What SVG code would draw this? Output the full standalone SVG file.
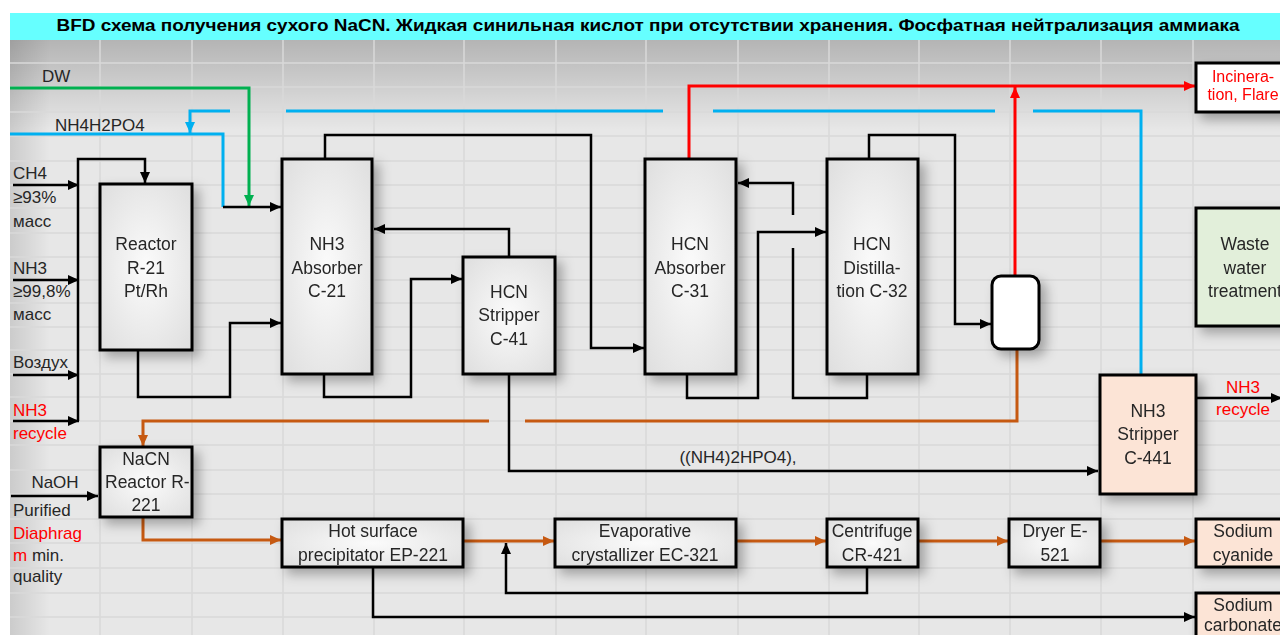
<svg xmlns="http://www.w3.org/2000/svg" width="1280" height="635" viewBox="0 0 1280 635">
<defs>
<style>
.grid{stroke:#d9d9d9;stroke-width:1.5}
.box{stroke:#000;stroke-width:3}
.gray{fill:url(#boxg)}
.peach{fill:#fce4d6}
.ln{fill:none;stroke:#000;stroke-width:2.5}
.blk{fill:none;stroke:#000;stroke-width:2.5;marker-end:url(#ak)}
.org{fill:none;stroke:#c65911;stroke-width:3}
.orga{fill:none;stroke:#c65911;stroke-width:3;marker-end:url(#ao)}
.red{fill:none;stroke:#ff0000;stroke-width:3}
.reda{fill:none;stroke:#ff0000;stroke-width:3;marker-end:url(#ar)}
.blu{fill:none;stroke:#00b0f0;stroke-width:3}
.blua{fill:none;stroke:#00b0f0;stroke-width:3;marker-end:url(#ab)}
.grna{fill:none;stroke:#00b050;stroke-width:3;marker-end:url(#ag)}
text{font-family:"Liberation Sans",Arial,sans-serif}
.t{font-size:17.5px;fill:#262626;text-anchor:middle}
.l{font-size:17px;fill:#262626}
.rt{fill:#ff0000}
.c{text-anchor:middle}
</style>
<marker id="ak" markerUnits="userSpaceOnUse" markerWidth="12" markerHeight="10" refX="11" refY="5" orient="auto"><path d="M0,0 L11,5 L0,10 z" fill="#000"/></marker>
<marker id="ao" markerUnits="userSpaceOnUse" markerWidth="12" markerHeight="10" refX="11" refY="5" orient="auto"><path d="M0,0 L11,5 L0,10 z" fill="#c65911"/></marker>
<marker id="ar" markerUnits="userSpaceOnUse" markerWidth="12" markerHeight="10" refX="11" refY="5" orient="auto"><path d="M0,0 L11,5 L0,10 z" fill="#ff0000"/></marker>
<marker id="ab" markerUnits="userSpaceOnUse" markerWidth="12" markerHeight="10" refX="11" refY="5" orient="auto"><path d="M0,0 L11,5 L0,10 z" fill="#00b0f0"/></marker>
<marker id="ag" markerUnits="userSpaceOnUse" markerWidth="12" markerHeight="10" refX="11" refY="5" orient="auto"><path d="M0,0 L11,5 L0,10 z" fill="#00b050"/></marker>
<radialGradient id="boxg" cx="50%" cy="50%" r="75%">
<stop offset="0" stop-color="#fbfbfb"/>
<stop offset="1" stop-color="#dcdcdc"/>
</radialGradient>
<linearGradient id="topShade" x1="0" y1="0" x2="0" y2="1">
<stop offset="0" stop-color="#000" stop-opacity="0.22"/>
<stop offset="1" stop-color="#000" stop-opacity="0"/>
</linearGradient>
<linearGradient id="leftShade" x1="0" y1="0" x2="1" y2="0">
<stop offset="0" stop-color="#000" stop-opacity="0.12"/>
<stop offset="1" stop-color="#000" stop-opacity="0"/>
</linearGradient>
<filter id="sh" x="-30%" y="-30%" width="170%" height="170%">
<feGaussianBlur in="SourceAlpha" stdDeviation="6"/>
<feOffset dx="6" dy="6" result="b"/>
<feFlood flood-color="#000" flood-opacity="0.3"/>
<feComposite in2="b" operator="in"/>
<feMerge><feMergeNode/><feMergeNode in="SourceGraphic"/></feMerge>
</filter>
</defs>

<rect x="0" y="0" width="1280" height="635" fill="#ffffff"/>
<rect x="10" y="40" width="1270" height="595" fill="#e7e7e7"/>
<rect x="10" y="40" width="1270" height="90" fill="url(#topShade)"/>
<rect x="10" y="40" width="40" height="595" fill="url(#leftShade)"/>

<g id="grid" class="grid">
<path d="M100,40V635M192,40V635M283,40V635M374,40V635M464,40V635M556,40V635M646,40V635M738,40V635M829,40V635M919,40V635M1010,40V635M1101,40V635M1193,40V635"/>
<path d="M10,63H1280M10,87H1280M10,112H1280M10,136H1280M10,161H1280M10,185H1280M10,208H1280M10,233H1280M10,257H1280M10,280H1280M10,303H1280M10,327H1280M10,350H1280M10,374H1280M10,397H1280M10,421H1280M10,445H1280M10,470H1280M10,494H1280M10,519H1280M10,543H1280M10,568H1280M10,593H1280M10,617H1280"/>
</g>

<g id="header">
<rect x="10" y="13" width="1270" height="27" fill="#66ffff"/>
<text x="648" y="31" font-size="16" font-weight="bold" fill="#000" text-anchor="middle" textLength="1183" lengthAdjust="spacingAndGlyphs">BFD схема получения сухого NaCN. Жидкая синильная кислот при отсутствии хранения. Фосфатная нейтрализация аммиака</text>
</g>

<g id="connectors">
<path class="grna" d="M10,88H249V206"/>
<path class="blu" d="M10,134H223V207"/>
<path class="blk" d="M223,207H281"/>
<path class="blu" d="M1141,375V111H1033"/>
<path class="blu" d="M995,111H713"/>
<path class="blu" d="M663,111H286"/>
<path class="blua" d="M230,111H190V133"/>
<path class="blk" d="M13,185H79"/>
<path class="blk" d="M13,280H79"/>
<path class="blk" d="M13,375H79"/>
<path class="blk" d="M13,421H79"/>
<path class="blk" d="M78,421V159H145V183"/>
<path class="blk" d="M138,350V397H230V323H281"/>
<path class="blk" d="M325,159V135H591V348H644"/>
<path class="blk" d="M509,257V229H374"/>
<path class="blk" d="M324,374V397H411V279H462"/>
<path class="blk" d="M509,374V471H1098"/>
<path class="blk" d="M687,374V398H758V232H826"/>
<path class="ln" d="M867,374V398H793V248"/>
<path class="blk" d="M793,215V183H738"/>
<path class="blk" d="M869,159V135H955V324H991"/>
<path class="reda" d="M689,159V86H1195"/>
<path class="reda" d="M1015,276V87"/>
<path class="org" d="M1017,349V421H525"/>
<path class="orga" d="M489,421H143V446"/>
<path class="blk" d="M11,496H98"/>
<path class="orga" d="M143,516V540H281"/>
<path class="orga" d="M463,541H554"/>
<path class="orga" d="M736,541H826"/>
<path class="orga" d="M918,541H1008"/>
<path class="orga" d="M1100,541H1195"/>
<path class="blk" d="M373,567V617H1195"/>
<path class="blk" d="M867,567V593H506V543"/>
<path class="blk" d="M1197,398H1282"/>
</g>

<g id="labels">
<text class="l" x="42" y="82">DW</text>
<text class="l" x="55" y="131">NH4H2PO4</text>
<text class="l" x="13" y="179">CH4</text>
<text class="l" x="13" y="203">≥93%</text>
<text class="l" x="13" y="227">масс</text>
<text class="l" x="13" y="274">NH3</text>
<text class="l" x="13" y="297">≥99,8%</text>
<text class="l" x="13" y="320">масс</text>
<text class="l" x="13" y="368">Воздух</text>
<text class="l rt" x="13" y="416">NH3</text>
<text class="l rt" x="13" y="439">recycle</text>
<text class="l c" x="55" y="488">NaOH</text>
<text class="l" x="13" y="516">Purified</text>
<text class="l rt" x="13" y="539">Diaphrag</text>
<text class="l" x="13" y="561"><tspan class="rt">m</tspan> min.</text>
<text class="l" x="13" y="582">quality</text>
<text class="l c" x="738" y="463">((NH4)2HPO4),</text>
<text class="l c rt" x="1243" y="393">NH3</text>
<text class="l c rt" x="1243" y="415">recycle</text>
</g>

<g id="reactor-r21" filter="url(#sh)">
<rect class="box gray" x="100" y="184" width="92" height="166"/>
<text class="t" x="146" y="250">Reactor</text>
<text class="t" x="146" y="274">R-21</text>
<text class="t" x="146" y="297">Pt/Rh</text>
</g>

<g id="nh3-absorber-c21" filter="url(#sh)">
<rect class="box gray" x="282" y="159" width="90" height="215"/>
<text class="t" x="327" y="250">NH3</text>
<text class="t" x="327" y="274">Absorber</text>
<text class="t" x="327" y="297">C-21</text>
</g>

<g id="hcn-stripper-c41" filter="url(#sh)">
<rect class="box gray" x="463" y="257" width="92" height="117"/>
<text class="t" x="509" y="298">HCN</text>
<text class="t" x="509" y="321">Stripper</text>
<text class="t" x="509" y="345">C-41</text>
</g>

<g id="hcn-absorber-c31" filter="url(#sh)">
<rect class="box gray" x="645" y="159" width="91" height="215"/>
<text class="t" x="690" y="250">HCN</text>
<text class="t" x="690" y="274">Absorber</text>
<text class="t" x="690" y="297">C-31</text>
</g>

<g id="hcn-distillation-c32" filter="url(#sh)">
<rect class="box gray" x="827" y="159" width="91" height="215"/>
<text class="t" x="872" y="250">HCN</text>
<text class="t" x="872" y="274">Distilla-</text>
<text class="t" x="872" y="297">tion C-32</text>
</g>

<g id="separator" filter="url(#sh)">
<rect class="box" x="992" y="276" width="47" height="73" rx="9" fill="#ffffff"/>
</g>

<g id="incineration" filter="url(#sh)">
<rect class="box" x="1196" y="63" width="95" height="49" fill="#ffffff"/>
<text x="1243" y="82" font-size="16" fill="#ff0000" text-anchor="middle">Incinera-</text>
<text x="1243" y="100" font-size="16" fill="#ff0000" text-anchor="middle">tion, Flare</text>
</g>

<g id="waste-water" filter="url(#sh)">
<rect class="box" x="1196" y="208" width="95" height="118" fill="#e2efda"/>
<text class="t" x="1245" y="250">Waste</text>
<text class="t" x="1245" y="274">water</text>
<text class="t" x="1245" y="297">treatment</text>
</g>

<g id="nh3-stripper-c441" filter="url(#sh)">
<rect class="box peach" x="1100" y="375" width="96" height="119"/>
<text class="t" x="1148" y="417">NH3</text>
<text class="t" x="1148" y="440">Stripper</text>
<text class="t" x="1148" y="464">C-441</text>
</g>

<g id="nacn-reactor-r221" filter="url(#sh)">
<rect class="box gray" x="100" y="447" width="92" height="70"/>
<text class="t" x="146" y="465">NaCN</text>
<text class="t" x="105" y="488" style="text-anchor:start">Reactor R-</text>
<text class="t" x="146" y="511">221</text>
</g>

<g id="hot-surface-ep221" filter="url(#sh)">
<rect class="box gray" x="282" y="519" width="181" height="48"/>
<text class="t" x="373" y="537">Hot surface</text>
<text class="t" x="373" y="561">precipitator EP-221</text>
</g>

<g id="evaporative-ec321" filter="url(#sh)">
<rect class="box gray" x="555" y="519" width="181" height="48"/>
<text class="t" x="645" y="537">Evaporative</text>
<text class="t" x="645" y="561">crystallizer EC-321</text>
</g>

<g id="centrifuge-cr421" filter="url(#sh)">
<rect class="box gray" x="827" y="519" width="91" height="48"/>
<text class="t" x="872" y="537">Centrifuge</text>
<text class="t" x="872" y="561">CR-421</text>
</g>

<g id="dryer-e521" filter="url(#sh)">
<rect class="box gray" x="1009" y="519" width="91" height="48"/>
<text class="t" x="1055" y="537">Dryer E-</text>
<text class="t" x="1055" y="561">521</text>
</g>

<g id="sodium-cyanide" filter="url(#sh)">
<rect class="box peach" x="1196" y="519" width="95" height="48"/>
<text class="t" x="1243" y="537">Sodium</text>
<text class="t" x="1243" y="561">cyanide</text>
</g>

<g id="sodium-carbonate" filter="url(#sh)">
<rect class="box peach" x="1196" y="593" width="95" height="50"/>
<text class="t" x="1243" y="611">Sodium</text>
<text class="t" x="1243" y="631">carbonate</text>
</g>
</svg>
